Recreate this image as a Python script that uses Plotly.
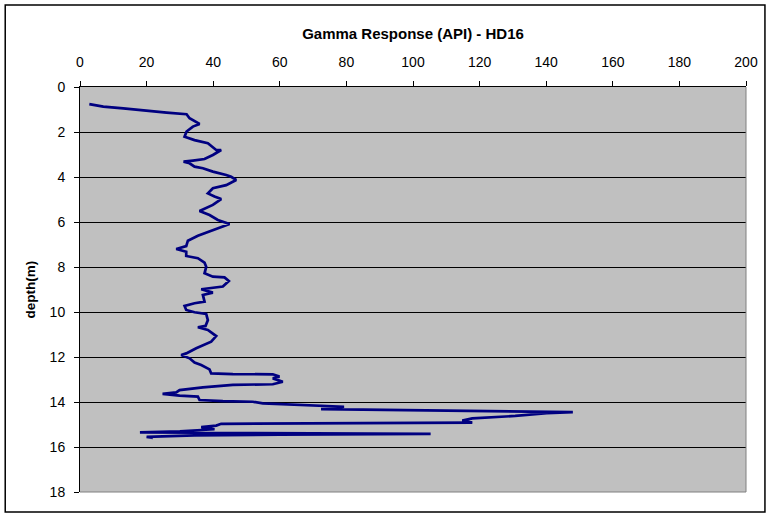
import plotly.graph_objects as go

# Gamma response (API) vs depth (m)
gamma_api = [2.8, 7.0, 13.0, 20.0, 26.0, 32.0, 32.9, 35.9, 33.9, 32.0, 31.4, 34.4, 38.4, 40.9, 42.4,
             39.9, 37.4, 33.9, 31.1, 32.9, 34.4, 36.9, 39.9, 43.9, 45.4, 46.9, 43.9, 39.9, 38.4, 40.4,
             42.4, 39.9, 35.9, 38.9, 41.4, 44.9, 39.9, 35.4, 32.4, 31.9, 28.9, 31.9, 31.9, 35.4, 37.4,
             37.9, 37.4, 39.9, 43.4, 44.7, 42.9, 36.4, 39.9, 36.9, 37.4, 34.4, 31.4, 31.9, 34.4, 37.9,
             38.4, 37.7, 35.4, 38.4, 40.9, 39.4, 34.9, 31.9, 30.4, 32.9, 34.4, 36.4, 38.9, 39.4, 45.9,
             57.9, 59.9, 57.9, 60.9, 57.9, 45.9, 36.9, 29.9, 28.9, 24.8, 29.9, 35.4, 35.9, 42.9, 51.9,
             54.9, 70.9, 79.3, 72.4, 110.8, 138.7, 148.0, 140.2, 130.7, 117.8, 114.8, 117.8, 80.8, 50.9,
             42.4, 40.9, 36.4, 40.4, 30.0, 18.0, 50.9, 105.3, 60.0, 34.4, 20.0, 21.9]
depth_m = [0.76, 0.87, 0.95, 1.07, 1.14, 1.21, 1.39, 1.64, 1.76, 1.98, 2.21, 2.36, 2.50, 2.80, 2.80,
           3.02, 3.20, 3.27, 3.32, 3.39, 3.54, 3.61, 3.76, 3.91, 3.99, 4.13, 4.36, 4.50, 4.73, 4.87,
           4.98, 5.24, 5.51, 5.69, 5.91, 6.09, 6.36, 6.61, 6.83, 7.07, 7.20, 7.32, 7.51, 7.61, 7.81,
           7.99, 8.28, 8.43, 8.46, 8.62, 8.87, 8.99, 9.14, 9.24, 9.54, 9.61, 9.73, 9.91, 10.01, 10.09,
           10.36, 10.62, 10.68, 10.80, 11.07, 11.32, 11.61, 11.84, 11.91, 12.06, 12.25, 12.36, 12.55, 12.73, 12.76,
           12.77, 12.87, 12.95, 13.10, 13.21, 13.24, 13.35, 13.47, 13.57, 13.64, 13.72, 13.76, 13.91, 13.96, 13.99,
           14.06, 14.18, 14.21, 14.32, 14.39, 14.43, 14.45, 14.50, 14.62, 14.73, 14.83, 14.92, 14.94, 14.95,
           14.97, 15.05, 15.12, 15.21, 15.30, 15.35, 15.38, 15.42, 15.45, 15.48, 15.55, 15.60]

x_ticks = [0, 20, 40, 60, 80, 100, 120, 140, 160, 180, 200]
y_ticks = [0, 2, 4, 6, 8, 10, 12, 14, 16, 18]

FONT = "Arial, 'Liberation Sans', sans-serif"

fig = go.Figure()
fig.add_trace(go.Scatter(x=gamma_api, y=depth_m, mode="lines",
                         line=dict(color="#000080", width=2.7), hoverinfo="x+y",
                         showlegend=False))

fig.update_layout(
    width=770, height=517,
    margin=dict(l=80, r=22, t=87, b=25),
    paper_bgcolor="white",
    plot_bgcolor="#C0C0C0",
    font=dict(family=FONT, size=14, color="black"),
    xaxis=dict(
        side="top", range=[0, 200], tickvals=x_ticks, ticks="outside", ticklen=5,
        tickcolor="black", showgrid=False, zeroline=False,
        showline=True, linecolor="black", linewidth=1,
        tickfont=dict(size=14), ticklabelstandoff=8,
        title=dict(text="<b>Gamma Response (API) - HD16</b>", font=dict(size=15), standoff=11),
    ),
    yaxis=dict(
        range=[18, 0], tickvals=y_ticks, ticks="outside", ticklen=5,
        tickcolor="black", showgrid=True, gridcolor="black", gridwidth=1, zeroline=False,
        showline=True, linecolor="black", linewidth=1,
        tickfont=dict(size=14), ticklabelstandoff=6,
        title=dict(text="<b>depth(m)</b>", font=dict(size=13.5), standoff=10),
    ),
    shapes=[
        dict(type="line", xref="paper", yref="paper", x0=1, x1=1, y0=0, y1=1,
             line=dict(color="#808080", width=1)),
        dict(type="line", xref="paper", yref="paper", x0=0, x1=1, y0=0, y1=0,
             line=dict(color="#808080", width=1)),
        dict(type="rect", xref="paper", yref="paper",
             x0=(5 - 80) / 668, x1=(767 - 80) / 668,
             y0=(492 - 512) / 405, y1=(492 - 5) / 405,
             line=dict(color="black", width=1.5), fillcolor="rgba(0,0,0,0)"),
    ],
)

fig.write_html("out.html", config={"displayModeBar": False})

# remove the browser's default body margin so the figure sits at the page origin
with open("out.html", "r", encoding="utf-8") as f:
    html = f.read()
html = html.replace("<head>", "<head><style>html,body{margin:0;padding:0;overflow:hidden;}</style>", 1)
with open("out.html", "w", encoding="utf-8") as f:
    f.write(html)
